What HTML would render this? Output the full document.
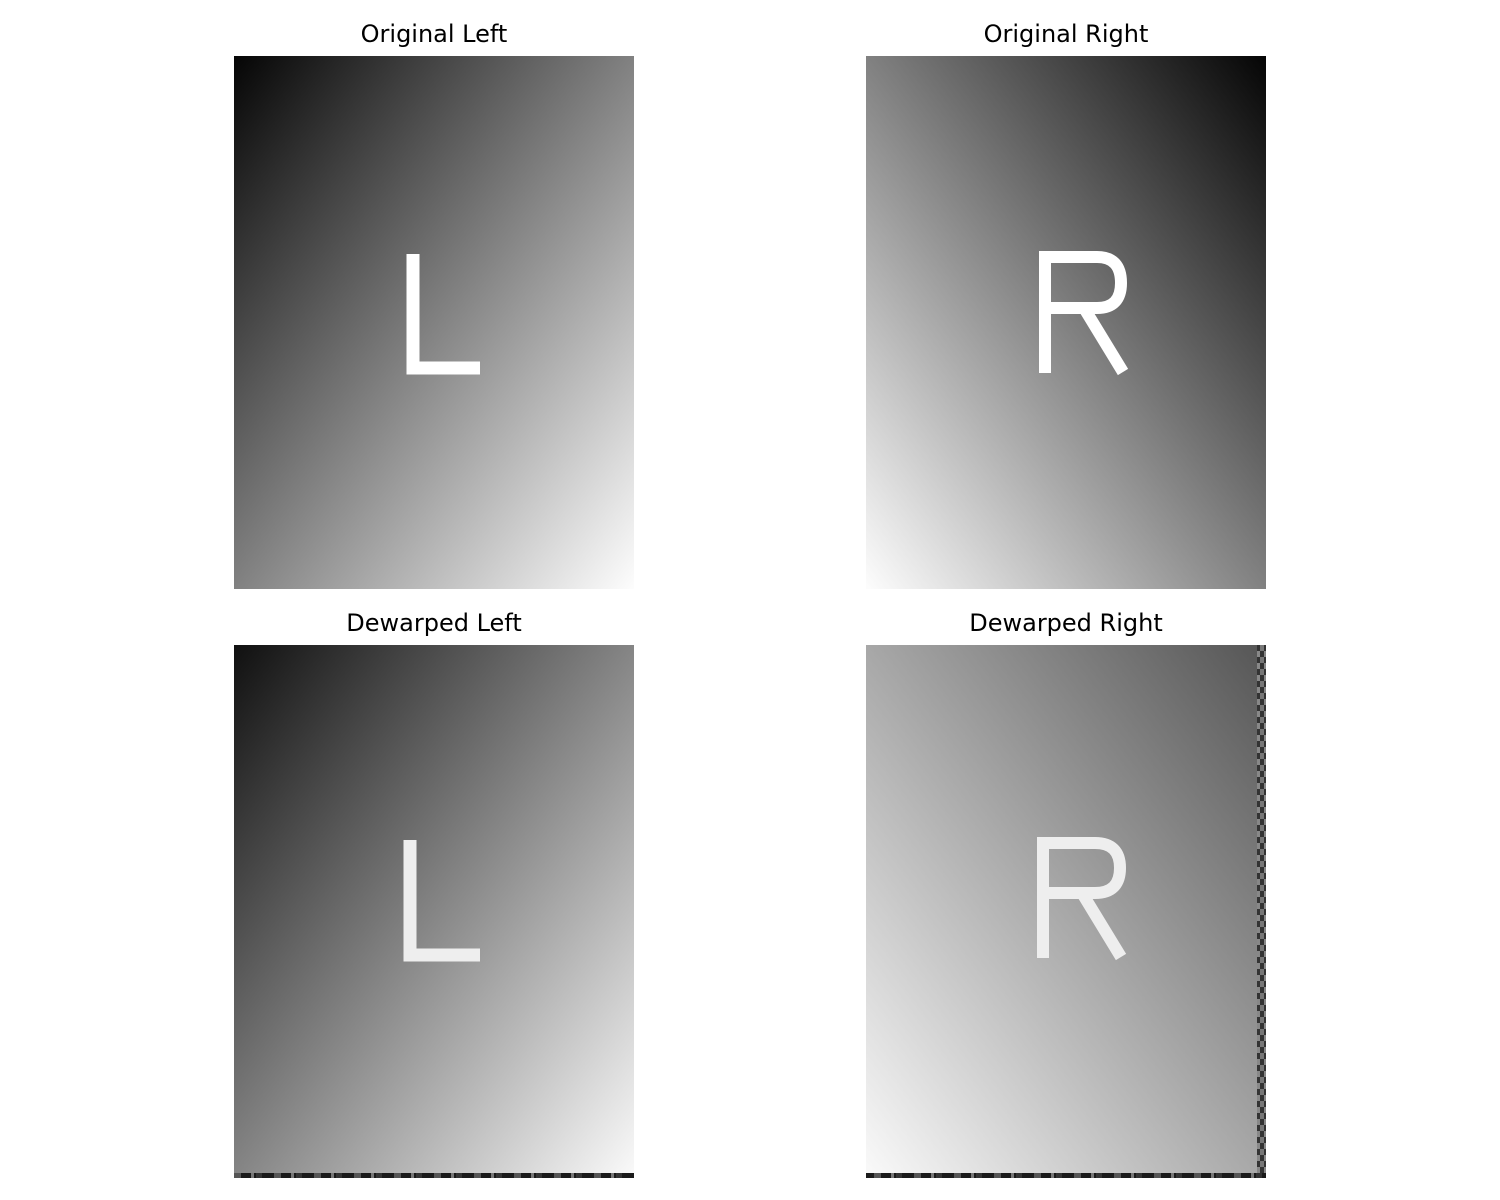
<!DOCTYPE html>
<html><head><meta charset="utf-8"><style>
html,body{margin:0;padding:0;background:#fff;}
svg{display:block;}
text{font-family:"DejaVu Sans","Liberation Sans",sans-serif;font-size:24px;fill:#000;}
</style></head><body>
<svg width="1500" height="1200" viewBox="0 0 1500 1200">
<defs>
<linearGradient id="gL" x1="0" y1="0" x2="1" y2="1"><stop offset="0" stop-color="#050505"/><stop offset="1" stop-color="#fdfdfd"/></linearGradient>
<linearGradient id="gR" x1="1" y1="0" x2="0" y2="1"><stop offset="0" stop-color="#050505"/><stop offset="1" stop-color="#fdfdfd"/></linearGradient>
<linearGradient id="gDL" x1="0" y1="0" x2="1" y2="1"><stop offset="0" stop-color="#101010"/><stop offset="1" stop-color="#fafafa"/></linearGradient>
<linearGradient id="gDR" x1="1" y1="0" x2="0" y2="1"><stop offset="0" stop-color="#555555"/><stop offset="1" stop-color="#fafafa"/></linearGradient>
<pattern id="dash" x="234" y="0" width="40" height="5" patternUnits="userSpaceOnUse">
<rect width="40" height="5" fill="#1a1a1a"/><rect x="0" width="7" height="5" fill="#555"/><rect x="17" width="3" height="5" fill="#777"/><rect x="22" width="6" height="5" fill="#333"/>
</pattern>
<pattern id="dashV" x="0" y="645" width="9" height="12" patternUnits="userSpaceOnUse">
<rect width="9" height="12" fill="#333"/><rect width="4" height="6" fill="#777"/><rect x="4" y="6" width="5" height="6" fill="#888"/>
</pattern>
</defs>

<g>
<text x="434" y="42" text-anchor="middle">Original Left</text>
<rect x="234" y="56" width="400" height="533" fill="url(#gL)"/>
<path d="M413 254 V368 H480" fill="none" stroke="#fff" stroke-width="13"/>
</g>

<g>
<text x="1066" y="42" text-anchor="middle">Original Right</text>
<rect x="866" y="56" width="400" height="533" fill="url(#gR)"/>
<path d="M1045 373 V257 H1097 Q1121 257 1121 283 Q1121 308 1097 308 H1045 M1084 308 L1123 372" fill="none" stroke="#fff" stroke-width="12"/>
</g>

<g>
<text x="434" y="631" text-anchor="middle">Dewarped Left</text>
<rect x="234" y="645" width="400" height="533" fill="url(#gDL)"/>
<path d="M410 840 V955 H480" fill="none" stroke="#eee" stroke-width="13"/>
<rect x="234" y="1173" width="400" height="5" fill="url(#dash)"/>
</g>

<g>
<text x="1066" y="631" text-anchor="middle">Dewarped Right</text>
<rect x="866" y="645" width="400" height="533" fill="url(#gDR)"/>
<path d="M1043 958 V843 H1095 Q1120 843 1120 868 Q1120 893 1095 893 H1043 M1082 893 L1121 957" fill="none" stroke="#eee" stroke-width="12"/>
<rect x="1257" y="645" width="9" height="533" fill="url(#dashV)"/>
<rect x="866" y="1173" width="400" height="5" fill="url(#dash)"/>
</g>
</svg>
</body></html>
